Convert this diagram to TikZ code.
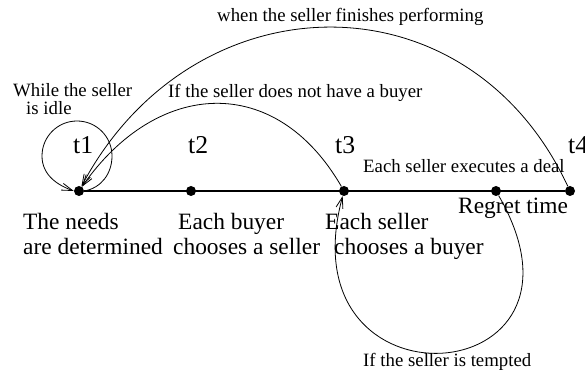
\documentclass[tikz,border=0pt]{standalone}
\usepackage{fontspec}
\setmainfont{Liberation Serif}
\usetikzlibrary{arrows.meta}

\begin{document}
\begin{tikzpicture}[x=1pt, y=1pt,
  dot/.style={circle, fill, inner sep=0pt, minimum size=10pt},
  txt/.style={anchor=base west, inner sep=0pt},
  big/.style={txt, font=\fontsize{23.4}{28}\selectfont},
  small/.style={txt, font=\fontsize{18.8}{22}\selectfont},
  tlab/.style={txt, font=\fontsize{25.7}{30}\selectfont},
  arr/.style={line width=0.8pt, -{Straight Barb[length=11pt, width=7pt]}}]
  \useasboundingbox (0,0) rectangle (585,374);
  % points on the time line
  \node[dot] (t1) at (79,183) {};
  \node[dot] (t2) at (191,183) {};
  \node[dot] (t3) at (344,183) {};
  \node[dot] (rg) at (496,183) {};
  \node[dot] (t4) at (570,183) {};
  \draw[line width=1.2pt] (t1) -- (t4);
  % going back
  \coordinate (lr) at (112,218);
  \coordinate (lt) at (77,253);
  \coordinate (ll) at (42,218);
  \draw[arr] (t1.east) to[out=10, in=-90] (lr) to[out=90, in=0] (lt)
    to[out=180, in=90] (ll) to[out=-90, in=160] (t1.west);
  \draw[arr] (t3) to[out=120, in=55, looseness=1.3] (t1);
  \draw[arr] (t4) to[out=115, in=62, looseness=1.25] (t1);
  \draw[arr] (rg) to[out=-60, in=-105, looseness=3.75] (t3);
  % time labels
  \node[tlab] (tl1) at (73,220) {t1};
  \node[tlab] (tl2) at (188,220) {t2};
  \node[tlab] (tl3) at (335,220) {t3};
  \node[tlab] (tl4) at (568,220) {t4};
  % steps
  \node[big] (needsA) at (23,144) {The needs};
  \node[big] (needsB) at (23,119) {are determined};
  \node[big] (buyerA) at (178,144) {Each buyer};
  \node[big] (buyerB) at (173,119) {chooses a seller};
  \node[big] (sellerA) at (325,144) {Each seller};
  \node[big] (sellerB) at (334,119) {chooses a buyer};
  \node[big] (regret) at (458,160) {Regret time};
  \node[small] (deal) at (363,201) {Each seller executes a deal};
  % conditions
  \node[small] (idleA) at (13,277) {While the seller};
  \node[small] (idleB) at (26,259) {is idle};
  \node[small] (nobuyer) at (168,276) {If the seller does not have a buyer};
  \node[small] (finish) at (217,352) {when the seller finishes performing};
  \node[small] (tempted) at (363,8) {If the seller is tempted};
\end{tikzpicture}
\end{document}
